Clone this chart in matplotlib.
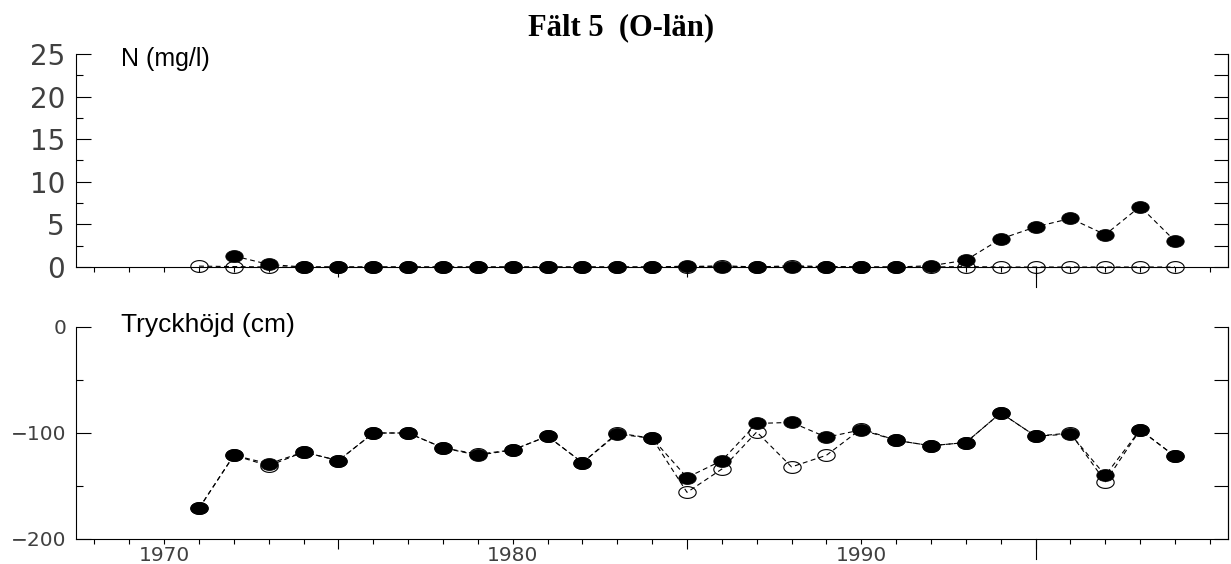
import numpy as np
import matplotlib
matplotlib.use("Agg")
import matplotlib.pyplot as plt
from matplotlib.ticker import FixedLocator, FuncFormatter, NullFormatter

plt.rcParams['lines.scale_dashes'] = False
plt.rcParams['font.family'] = 'DejaVu Sans'

years = list(range(1971, 2000))

# N (mg/l), filled = one well, open = the other
n_filled = [np.nan, 1.3, 0.3, 0, 0, 0, 0, 0, 0, 0, 0, 0, 0, 0, 0.1, 0.05, 0,
            0.05, 0.05, 0, 0, 0.15, 0.8, 3.3, 4.7, 5.7, 3.8, 7.1, 3.05]
n_open = [0.1, 0.05, 0, 0, 0, 0, 0, 0, 0, 0, 0, 0, 0, 0, 0, 0.15, 0,
          0.15, 0.05, 0, 0, 0, 0.05, 0, 0, 0, 0, 0, 0]

# Tryckhöjd (cm)
tryck_filled = [-171, -121, -129, -118, -126, -100, -100, -114, -121, -116,
                -103, -128, -101, -105, -142, -126, -91, -90, -104, -97,
                -107, -112, -109, -81, -103, -101, -140, -97, -122]
tryck_open = [-171, -121, -131, -118, -126, -100, -100, -114, -120, -116,
              -103, -128, -100, -105, -156, -134, -99, -132, -121, -96,
              -107, -112, -109, -81, -103, -100, -146, -97, -122]

label_years = [1970, 1980, 1990]
long_years = [1975, 1985]

# flattened ellipse marker
t = np.linspace(0, 2 * np.pi, 61)
ellipse = np.column_stack([np.cos(t), 0.68 * np.sin(t)])

W, H = 1231, 564
fig = plt.figure(figsize=(W / 100, H / 100), dpi=100)

label_color = '#404040'


def draw_series(ax, yo, yf):
    ax.plot(years, yo, color='black', lw=0.8, ls=(0, (3.5, 2.5)),
            marker=ellipse, ms=12.5, mfc='none', mec='black', mew=0.8,
            clip_on=False, zorder=3)
    ax.plot(years, yf, color='black', lw=0.8, ls=(0, (3.5, 2.5)),
            marker=ellipse, ms=12.5, mfc='black', mec='black', mew=0.6,
            clip_on=False, zorder=4)


def style_x(ax, show_labels):
    ax.set_xlim(1967.47, 2000.52)
    ax.xaxis.set_minor_locator(FixedLocator(range(1968, 2001)))
    ax.xaxis.set_major_locator(FixedLocator(long_years + [1995]))
    ax.xaxis.set_major_formatter(NullFormatter())
    if show_labels:
        ax.xaxis.set_minor_formatter(FuncFormatter(
            lambda v, p: str(int(round(v))) if int(round(v)) in label_years else ''))
    else:
        ax.xaxis.set_minor_formatter(NullFormatter())
    ax.tick_params(axis='x', which='minor', direction='out', length=3.8,
                   width=0.8, pad=1.5, labelsize=14.5, labelcolor=label_color)
    ax.tick_params(axis='x', which='major', direction='out', length=7.5,
                   width=0.8)
    # longer tick at 1995
    ax.plot([1995, 1995], [0, -20 / (ax.get_position().height * H)],
            transform=ax.get_xaxis_transform(), color='black', lw=0.8,
            clip_on=False)


def style_y(ax, ymin, ymax, major, minor, right_ticks, size, pad):
    ax.set_ylim(ymin, ymax)
    ax.yaxis.set_major_locator(FixedLocator(major))
    ax.yaxis.set_minor_locator(FixedLocator(minor))
    ax.tick_params(axis='y', which='major', direction='in', length=10.5,
                   width=0.8, pad=pad, labelsize=size, labelcolor=label_color)
    ax.tick_params(axis='y', which='minor', direction='in', length=5,
                   width=0.8)
    ax.yaxis.set_major_formatter(FuncFormatter(
        lambda v, p: ('\u2212%d' % -v) if v < 0 else '%d' % v))
    ax.spines['top'].set_visible(False)
    for s in ('left', 'right', 'bottom'):
        ax.spines[s].set_linewidth(0.8)
    tw = ax.twinx()
    tw.set_ylim(ymin, ymax)
    tw.yaxis.set_major_locator(FixedLocator(right_ticks))
    tw.tick_params(axis='y', direction='in', length=10, width=0.8,
                   labelright=False)
    for s in ('left', 'top', 'bottom'):
        tw.spines[s].set_visible(False)
    tw.spines['right'].set_linewidth(0.8)
    ax.set_zorder(tw.get_zorder() + 1)
    ax.patch.set_visible(False)


# upper panel: N
ax1 = fig.add_axes([76 / W, 1 - 267 / H, 1152 / W, 213 / H])
style_y(ax1, 0, 25, [0, 5, 10, 15, 20, 25], np.arange(2.5, 25, 5),
        np.arange(0, 25.1, 2.5), 20, 8)
style_x(ax1, False)
draw_series(ax1, n_open, n_filled)
ax1.text(121 / W, 1 - 66 / H, 'N (mg/l)', transform=fig.transFigure,
         family='Liberation Sans', fontsize=18, va='baseline')

# lower panel: Tryckhöjd
ax2 = fig.add_axes([76 / W, 1 - 539 / H, 1152 / W, 212 / H])
style_y(ax2, -200, 0, [-200, -100, 0], [-150, -50],
        [-200, -150, -100, -50, 0], 14.5, 7)
style_x(ax2, True)
draw_series(ax2, tryck_open, tryck_filled)
ax2.text(121 / W, 1 - 332 / H, 'Tryckhöjd (cm)', transform=fig.transFigure,
         family='Liberation Sans', fontsize=19, va='baseline')

fig.text(621 / W, 1 - 35 / H, 'Fält 5  (O-län)', ha='center', va='baseline',
         family='Liberation Serif', weight='bold', fontsize=22)

fig.savefig('out.png', dpi=100)
